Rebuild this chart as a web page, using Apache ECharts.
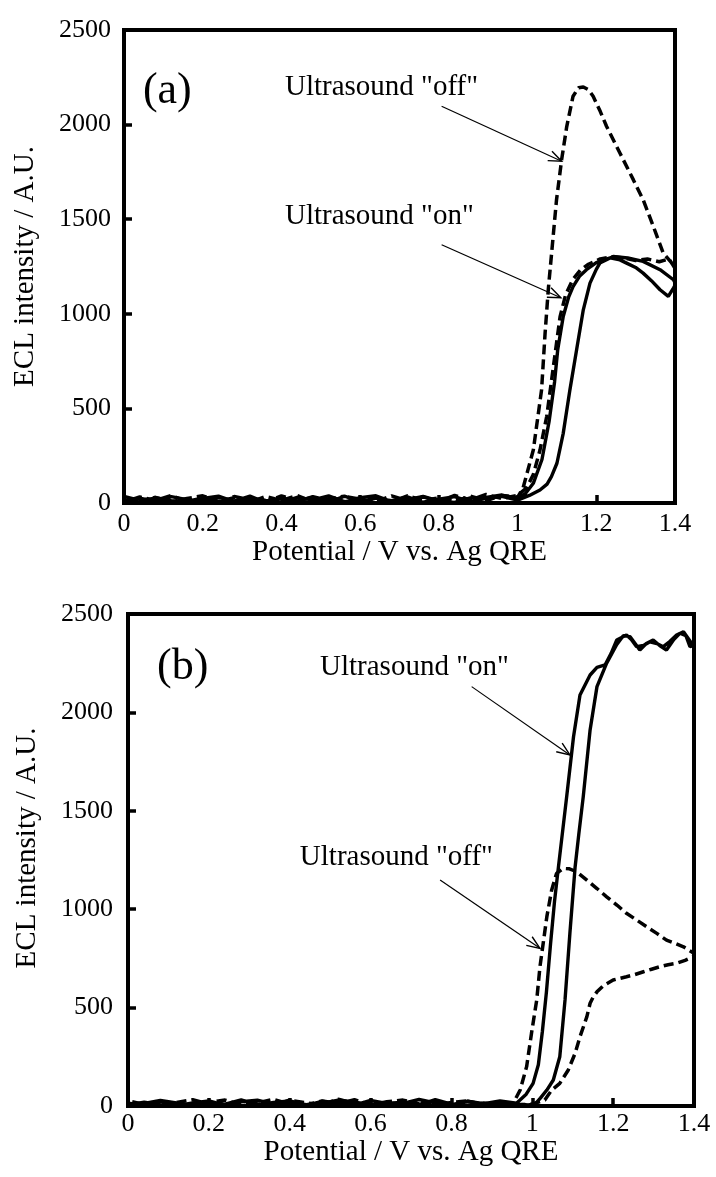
<!DOCTYPE html>
<html>
<head>
<meta charset="utf-8">
<style>
  html, body { margin: 0; padding: 0; background: #fff; }
  #chart { width: 716px; height: 1177px; }
</style>
<script src="https://cdn.jsdelivr.net/npm/echarts@6/dist/echarts.min.js"></script>
</head>
<body>
<div id="chart"></div>
<script>
// Potential grid for the flat pre-onset region (V)
const baseX = [0, 0.04, 0.08, 0.12, 0.16, 0.2, 0.24, 0.28, 0.32, 0.36, 0.4, 0.44, 0.48,
  0.52, 0.56, 0.6, 0.64, 0.68, 0.72, 0.76, 0.8, 0.84, 0.88, 0.92, 0.96];

// Panel (a): background ECL noise (A.U.) on the flat part, forward and return sweeps
const aOffFwdBase = [35, 12, 30, 5, 24, 38, 8, 28, 4, 34, 14, 40, 6, 22, 36, 9, 30, 5, 38, 15, 26, 8, 36, 12, 40];
const aOffRevBase = [6, 32, 14, 40, 8, 26, 3, 34, 18, 6, 38, 10, 30, 4, 35, 20, 6, 38, 12, 32, 7, 40, 16, 45, 24];
const aOnFwdBase = [18, 4, 28, 12, 2, 24, 36, 7, 28, 14, 3, 30, 16, 38, 8, 2, 26, 12, 32, 4, 20, 34, 6, 24, 35];
const aOnRevBase = [3, 26, 8, 34, 18, 5, 30, 10, 36, 2, 24, 9, 33, 14, 4, 28, 38, 7, 18, 35, 11, 3, 27, 30, 42];

// Panel (a): onset region [potential, intensity]
const aOffFwd = [[1.0, 30], [1.014, 80], [1.04, 280], [1.061, 598], [1.07, 900], [1.078, 1127], [1.09, 1400],
  [1.099, 1603], [1.112, 1815], [1.125, 1991], [1.141, 2150], [1.155, 2195], [1.167, 2199], [1.18, 2185],
  [1.192, 2150], [1.21, 2070], [1.226, 1991], [1.26, 1850], [1.294, 1709], [1.319, 1603], [1.345, 1462],
  [1.37, 1321], [1.391, 1270], [1.4, 1240]];
const aOffRev = [[1.4, 1240], [1.385, 1290], [1.36, 1275], [1.33, 1290], [1.3, 1282], [1.27, 1295], [1.24, 1302],
  [1.21, 1290], [1.18, 1262], [1.16, 1232], [1.14, 1180], [1.122, 1100], [1.108, 985], [1.091, 721],
  [1.074, 457], [1.057, 280], [1.04, 150], [1.023, 80], [1.0, 40]];
const aOnFwd = [[1.0, 15], [1.03, 40], [1.057, 69], [1.075, 100], [1.086, 139], [1.1, 210], [1.116, 368],
  [1.133, 598], [1.15, 810], [1.167, 1021], [1.184, 1162], [1.2, 1235], [1.209, 1268], [1.243, 1303],
  [1.28, 1295], [1.319, 1277], [1.362, 1233], [1.396, 1180], [1.4, 1165]];
const aOnRev = [[1.4, 1150], [1.396, 1136], [1.383, 1092], [1.362, 1127], [1.34, 1175], [1.319, 1215],
  [1.3, 1245], [1.277, 1268], [1.26, 1285], [1.235, 1296], [1.2, 1270], [1.175, 1233], [1.158, 1200],
  [1.141, 1144], [1.13, 1090], [1.116, 986], [1.102, 810], [1.094, 640], [1.08, 430], [1.062, 230],
  [1.04, 104], [1.02, 50], [1.0, 25]];

// Panel (b): background noise
const bOffFwdBase = [14, 3, 24, 9, 2, 20, 30, 6, 16, 34, 10, 4, 26, 12, 32, 7, 20, 3, 28, 11, 5, 24, 9, 18, 8];
const bOffRevBase = [26, 8, 2, 18, 32, 10, 5, 24, 12, 3, 30, 16, 7, 34, 14, 4, 22, 30, 10, 2, 18, 26, 6, 14, 5];
const bOnFwdBase = [5, 20, 7, 2, 15, 26, 4, 22, 30, 9, 17, 3, 24, 11, 5, 28, 13, 19, 6, 32, 9, 3, 16, 6, 10];
const bOnRevBase = [3, 13, 28, 15, 5, 22, 9, 31, 4, 18, 26, 7, 14, 29, 20, 8, 2, 13, 33, 16, 4, 24, 12, 26, 7];

// Panel (b): onset region
const bOffFwd = [[0.953, 14], [0.97, 81], [0.986, 200], [0.998, 369], [1.011, 539], [1.019, 708], [1.027, 827],
  [1.036, 962], [1.048, 1098], [1.06, 1182], [1.077, 1207], [1.092, 1205], [1.11, 1190], [1.135, 1148],
  [1.16, 1105], [1.184, 1063], [1.21, 1020], [1.233, 979], [1.258, 945], [1.283, 911], [1.308, 877],
  [1.332, 843], [1.355, 825], [1.374, 809], [1.4, 776]];
const bOffRev = [[1.4, 760], [1.378, 740], [1.357, 725], [1.336, 718], [1.316, 708], [1.295, 695],
  [1.275, 682], [1.254, 668], [1.233, 657], [1.2, 640], [1.175, 610], [1.16, 580], [1.151, 555],
  [1.143, 522], [1.135, 454], [1.118, 352], [1.106, 268], [1.089, 183], [1.068, 115], [1.048, 81],
  [1.031, 30], [1.0, 10]];
const bOnFwd = [[0.99, 5], [1.007, 10], [1.02, 40], [1.036, 81], [1.052, 132], [1.068, 250], [1.081, 539],
  [1.093, 877], [1.106, 1216], [1.115, 1380], [1.126, 1571], [1.143, 1911], [1.16, 2131], [1.184, 2250],
  [1.209, 2345], [1.225, 2390], [1.242, 2385], [1.266, 2317], [1.282, 2350], [1.299, 2368], [1.315, 2340],
  [1.332, 2317], [1.35, 2370], [1.365, 2402], [1.38, 2390], [1.39, 2334], [1.4, 2340]];
const bOnRev = [[1.4, 2360], [1.394, 2351], [1.374, 2410], [1.357, 2393], [1.34, 2360], [1.324, 2334],
  [1.308, 2350], [1.291, 2359], [1.275, 2340], [1.258, 2334], [1.245, 2370], [1.233, 2393], [1.209, 2368],
  [1.195, 2300], [1.18, 2241], [1.16, 2229], [1.143, 2190], [1.118, 2088], [1.102, 1876], [1.085, 1571],
  [1.065, 1220], [1.055, 1040], [1.045, 820], [1.035, 580], [1.025, 380], [1.015, 210], [1.002, 115],
  [0.985, 60], [0.961, 14]];

// Axis ticks
const xTicks = { min: 0, max: 1.4, interval: 0.2 };
const yTicks = { min: 0, max: 2500, interval: 500 };

const FONT = 'Liberation Serif';

// One full sweep: flat part out, onset/plateau, back, flat part home
function sweep(fwdBase, fwd, rev, revBase) {
  const out = baseX.map((x, i) => [x, fwdBase[i]]).concat(fwd).concat(rev);
  for (let i = baseX.length - 1; i >= 0; i--) out.push([baseX[i], revBase[i]]);
  return out;
}

const chart = echarts.init(document.getElementById('chart'), null, { renderer: 'canvas' });

function axisPair(idx, xMargin, yMargin, nameGapX, nameGapY) {
  const common = {
    gridIndex: idx,
    axisLine: { show: true, lineStyle: { color: '#000', width: 4 } },
    axisTick: { show: true, inside: true, length: 8, lineStyle: { color: '#000', width: 3.5 } },
    splitLine: { show: false },
    nameLocation: 'middle',
    nameTextStyle: { fontFamily: FONT, fontSize: 29, color: '#000' }
  };
  return {
    x: Object.assign({}, common, {
      type: 'value', min: xTicks.min, max: xTicks.max, interval: xTicks.interval,
      name: 'Potential / V vs. Ag QRE', nameGap: nameGapX,
      axisLabel: { fontFamily: FONT, fontSize: 26, color: '#000', margin: xMargin,
        formatter: v => String(+v.toFixed(1)) }
    }),
    y: Object.assign({}, common, {
      type: 'value', min: yTicks.min, max: yTicks.max, interval: yTicks.interval,
      name: 'ECL intensity / A.U.', nameGap: nameGapY,
      axisLabel: { fontFamily: FONT, fontSize: 26, color: '#000', margin: yMargin,
        formatter: v => String(v) }
    })
  };
}

const axA = axisPair(0, 8, 13, 32, 84);
const axB = axisPair(1, 5, 15, 32, 86);
axB.y.nameTextStyle = Object.assign({}, axB.y.nameTextStyle, { padding: [0, 0, 0, 24] });

function lineSeries(idx, data, dashed) {
  return {
    type: 'line', xAxisIndex: idx, yAxisIndex: idx, data: data,
    showSymbol: false, symbol: 'none', smooth: false, animation: false,
    lineStyle: dashed
      ? { color: '#000', width: 3.5, type: [10, 5] }
      : { color: '#000', width: 3.4 }
  };
}

chart.setOption({
  animation: false,
  backgroundColor: '#fff',
  grid: [
    { left: 124, top: 30, width: 551, height: 473, show: true, borderColor: '#000', borderWidth: 4 },
    { left: 128, top: 614, width: 566, height: 492, show: true, borderColor: '#000', borderWidth: 4 }
  ],
  xAxis: [axA.x, axB.x],
  yAxis: [axA.y, axB.y],
  series: [
    lineSeries(0, sweep(aOffFwdBase, aOffFwd, aOffRev, aOffRevBase), true),
    lineSeries(0, sweep(aOnFwdBase, aOnFwd, aOnRev, aOnRevBase), false),
    lineSeries(1, sweep(bOffFwdBase, bOffFwd, bOffRev, bOffRevBase), true),
    lineSeries(1, sweep(bOnFwdBase, bOnFwd, bOnRev, bOnRevBase), false)
  ]
});

// Annotations placed in data coordinates of each panel
const notes = [
  { g: 0, text: '(a)', x: 0.048, y: 2175, size: 44 },
  { g: 0, text: 'Ultrasound "off"', x: 0.409, y: 2198, size: 29 },
  { g: 0, text: 'Ultrasound "on"', x: 0.409, y: 1513, size: 29 },
  { g: 1, text: '(b)', x: 0.072, y: 2228, size: 44 },
  { g: 1, text: 'Ultrasound "on"', x: 0.475, y: 2231, size: 29 },
  { g: 1, text: 'Ultrasound "off"', x: 0.425, y: 1265, size: 29 }
];
const arrows = [
  { g: 0, from: [0.807, 2097], to: [1.112, 1806] },
  { g: 0, from: [0.807, 1365], to: [1.110, 1085] },
  { g: 1, from: [0.850, 2131], to: [1.093, 1784] },
  { g: 1, from: [0.772, 1148], to: [1.019, 801] }
];

function toPx(g, p) { return chart.convertToPixel({ gridIndex: g }, p); }

const graphics = [];
notes.forEach(n => {
  const p = toPx(n.g, [n.x, n.y]);
  graphics.push({
    type: 'text', x: p[0], y: p[1], z: 100,
    style: { text: n.text, fill: '#000', font: n.size + 'px "' + FONT + '"', align: 'left', verticalAlign: 'middle' }
  });
});
arrows.forEach(a => {
  const p0 = toPx(a.g, a.from), p1 = toPx(a.g, a.to);
  const ang = Math.atan2(p1[1] - p0[1], p1[0] - p0[0]);
  const L = 14, spread = 0.38;
  const h1 = [p1[0] - L * Math.cos(ang - spread), p1[1] - L * Math.sin(ang - spread)];
  const h2 = [p1[0] - L * Math.cos(ang + spread), p1[1] - L * Math.sin(ang + spread)];
  graphics.push({ type: 'line', z: 100, shape: { x1: p0[0], y1: p0[1], x2: p1[0], y2: p1[1] },
    style: { stroke: '#000', lineWidth: 1.2 } });
  graphics.push({ type: 'polyline', z: 100, shape: { points: [h1, p1, h2] },
    style: { stroke: '#000', lineWidth: 1.4, fill: null } });
});
chart.setOption({ graphic: graphics });
</script>
</body>
</html>
